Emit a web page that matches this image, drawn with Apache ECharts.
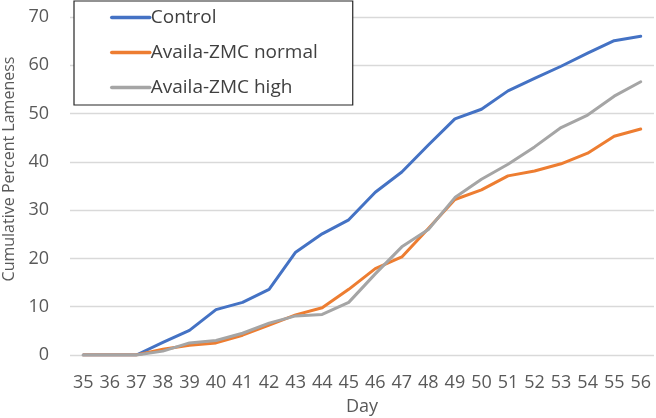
<!DOCTYPE html>
<html>
<head>
<meta charset="utf-8">
<script src="https://cdn.jsdelivr.net/npm/echarts@6/dist/echarts.min.js"></script>
<style>html,body{margin:0;padding:0;background:#fff}#c{width:656px;height:418px}</style>
</head>
<body>
<div id="c"></div>
<script>
const days = ['35','36','37','38','39','40','41','42','43','44','45','46','47','48','49','50','51','52','53','54','55','56'];
const control = [0,0,0,2.6,5.1,9.4,10.9,13.6,21.3,25.1,28.0,33.7,37.9,43.5,48.9,50.9,54.7,57.3,59.8,62.5,65.1,66.0];
const zmcNormal = [0,0,0,1.2,2.0,2.5,4.1,6.2,8.3,9.8,13.6,17.9,20.3,26.2,32.2,34.2,37.1,38.1,39.6,41.8,45.3,46.8];
const zmcHigh = [0,0,0,0.8,2.5,3.0,4.5,6.6,8.1,8.4,10.9,16.8,22.4,26.0,32.6,36.4,39.5,43.1,47.1,49.7,53.6,56.6];
const seriesNames = ['Control','Availa-ZMC normal','Availa-ZMC high'];
const colors = ['#4472C4','#ED7D31','#A5A5A5'];

const font = 'Open Sans';
const chart = echarts.init(document.getElementById('c'));
const mk = (name, data, color) => ({
  name, type: 'line', data, symbol: 'none', smooth: false,
  lineStyle: { color, width: 3, cap: 'round', join: 'round' },
  itemStyle: { color }
});
chart.setOption({
  animation: false,
  color: colors,
  textStyle: { fontFamily: font },
  grid: { left: 70, right: 2, top: 17, bottom: 63, containLabel: false, outerBoundsMode: 'none' },
  legend: {
    orient: 'vertical', left: 74, top: 1,
    data: seriesNames,
    itemWidth: 38, itemHeight: 3, itemGap: 16,
    padding: [7, 35, 8, 36],
    borderColor: '#262626', borderWidth: 1.2,
    backgroundColor: '#fff',
    itemStyle: { opacity: 0 },
    lineStyle: { width: 3.5 },
    textStyle: { fontFamily: font, fontSize: 19, color: '#404040', padding: [0,0,0,-4] }
  },
  xAxis: {
    type: 'category', data: days, boundaryGap: true,
    name: 'Day', nameLocation: 'middle', nameGap: 43,
    nameTextStyle: { fontFamily: font, fontSize: 18, color: '#595959' },
    axisLine: { show: false }, axisTick: { show: false },
    axisLabel: { fontFamily: font, fontSize: 18, color: '#595959', margin: 19, interval: 0 },
    splitLine: { show: false }
  },
  yAxis: {
    type: 'value', min: 0, max: 70, interval: 10,
    name: 'Cumulative Percent Lameness', nameLocation: 'middle', nameGap: 53,
    nameTextStyle: { fontFamily: font, fontSize: 16, color: '#595959', padding: [0,0,0,34] },
    axisLine: { show: false }, axisTick: { show: false },
    axisLabel: { fontFamily: font, fontSize: 18, color: '#595959', margin: 21 },
    splitLine: { show: true, lineStyle: { color: '#D9D9D9', width: 1.3 } }
  },
  series: [
    mk(seriesNames[0], control, colors[0]),
    mk(seriesNames[1], zmcNormal, colors[1]),
    mk(seriesNames[2], zmcHigh, colors[2])
  ]
});
</script>
</body>
</html>
